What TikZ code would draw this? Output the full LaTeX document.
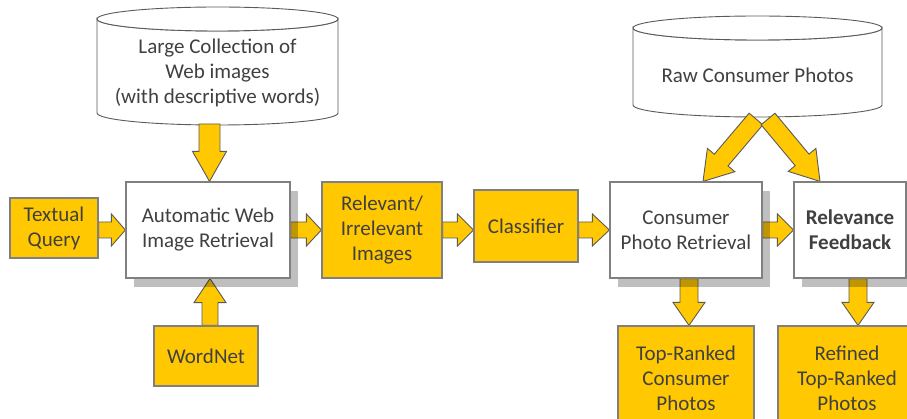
\documentclass[tikz,border=0pt]{standalone}
\usepackage{fontspec}
\setmainfont{Carlito}
\usetikzlibrary{calc,shadows}
\pgfdeclarelayer{bg}\pgfdeclarelayer{arr}
\pgfsetlayers{bg,arr,main}
\definecolor{gold}{HTML}{FFC800}
\definecolor{txtgray}{HTML}{404040}
\definecolor{boxgray}{HTML}{808080}
\definecolor{arrgray}{HTML}{5A5A5A}
\definecolor{cylgray}{HTML}{5A5A5A}
\tikzset{
 box/.style={draw=boxgray, line width=1.2pt, text=txtgray, align=center, inner sep=0pt, font=\fontsize{21}{25}\selectfont},
 wbox/.style={box, fill=white, drop shadow={shadow xshift=8pt, shadow yshift=-9pt, fill=black, opacity=0.25, draw=none}},
 gbox/.style={box, fill=gold},
 barrowst/.style={fill=gold, draw=arrgray, line width=0.9pt, line join=miter},
 cylst/.style={draw=cylgray, fill=white, line width=0.9pt},
 cyltext/.style={text=txtgray, align=center, inner sep=0pt, font=\fontsize{21}{25}\selectfont},
}
\newcommand\drawcyl[5]{%
 \filldraw[cylst] (#1-#4,#2) -- (#1-#4,#3) arc[start angle=180,end angle=0,x radius=#4,y radius=#5] -- (#1+#4,#2) arc[start angle=0,end angle=180,x radius=#4,y radius=#5] -- cycle;
 \filldraw[cylst] (#1,#2) ellipse [x radius=#4, y radius=#5];}
\newcommand\barrow[5]{%
 \coordinate (bah) at ($(#2)!#5!(#1)$);
 \filldraw[barrowst] ($(#1)!#3!90:(#2)$) -- ($(bah)!#3!90:(#2)$) -- ($(bah)!#4!90:(#2)$) -- (#2) -- ($(bah)!#4!-90:(#2)$) -- ($(bah)!#3!-90:(#2)$) -- ($(#1)!#3!-90:(#2)$) -- cycle;}
\begin{document}
\begin{tikzpicture}[x=1pt,y=-1pt]
\useasboundingbox (0,0) rectangle (907,419);
\clip (0,0) rectangle (907,419);
% databases
\begin{pgfonlayer}{bg}
\drawcyl{217.5}{19}{113}{120.5}{12}
\drawcyl{757.5}{28}{105}{124.5}{12}
\end{pgfonlayer}
\node[cyltext] (cyl1) at (217.5,73) {Large Collection of\\Web images\\(with descriptive words)};
\node[cyltext] (cyl2) at (757.5,75) {Raw Consumer Photos};
% boxes
\node[gbox, minimum width=88, minimum height=60] (tq) at (54,228) {Textual\\Query};
\node[wbox, minimum width=164, minimum height=96] (auto) at (208,230) {Automatic Web\\Image Retrieval};
\node[gbox, minimum width=120, minimum height=96] (rel) at (382,230) {Relevant/\\Irrelevant\\Images};
\node[gbox, minimum width=104, minimum height=72] (cls) at (526,226) {Classifier};
\node[wbox, minimum width=152, minimum height=96] (cpr) at (686,230) {Consumer\\Photo Retrieval};
\node[wbox, minimum width=112, minimum height=96, font=\fontsize{21}{25}\selectfont\bfseries] (rf) at (850,230) {Relevance\\Feedback};
\node[gbox, minimum width=104, minimum height=60] (wn) at (206,356) {WordNet};
\node[gbox, minimum width=136, minimum height=104] (trk) at (686,378) {Top-Ranked\\Consumer\\Photos};
\node[gbox, minimum width=138, minimum height=104] (ref) at (847,378) {Refined\\Top-Ranked\\Photos};
% block arrows
\begin{pgfonlayer}{arr}
\coordinate (a1s) at (tq.east |- auto.west);
\barrow{a1s}{auto.west}{8pt}{16pt}{14pt}
\barrow{auto.east}{rel.west}{8pt}{16pt}{15pt}
\coordinate (a3e) at (cls.west |- rel.east);
\barrow{rel.east}{a3e}{8pt}{16pt}{16pt}
\coordinate (a4s) at (cls.east |- cpr.west);
\barrow{a4s}{cpr.west}{8pt}{16pt}{17pt}
\barrow{cpr.east}{rf.west}{8pt}{16pt}{16pt}
\coordinate (c1out) at (209.5,124);
\coordinate (a6e) at (c1out |- auto.north);
\barrow{c1out}{a6e}{10.5pt}{17pt}{30pt}
\coordinate (a7s) at ($(wn.north)+(4,0)$);
\coordinate (a7e) at (a7s |- auto.south);
\barrow{a7s}{a7e}{8pt}{16pt}{24pt}
\coordinate (a8s) at ($(cpr.south)+(3,0)$);
\coordinate (a8e) at (a8s |- trk.north);
\barrow{a8s}{a8e}{9pt}{16pt}{23pt}
\coordinate (a9s) at ($(rf.south)+(8,0)$);
\coordinate (a9e) at (a9s |- ref.north);
\barrow{a9s}{a9e}{9pt}{16pt}{23pt}
\coordinate (c2l) at (756,119);
\coordinate (c2r) at (768,119);
\coordinate (d1e) at ($(cpr.north)+(17,0)$);
\coordinate (d2e) at ($(rf.north)+(-30,0)$);
\barrow{c2l}{d1e}{9pt}{18pt}{28pt}
\barrow{c2r}{d2e}{9pt}{18pt}{28pt}
\end{pgfonlayer}
\end{tikzpicture}
\end{document}
